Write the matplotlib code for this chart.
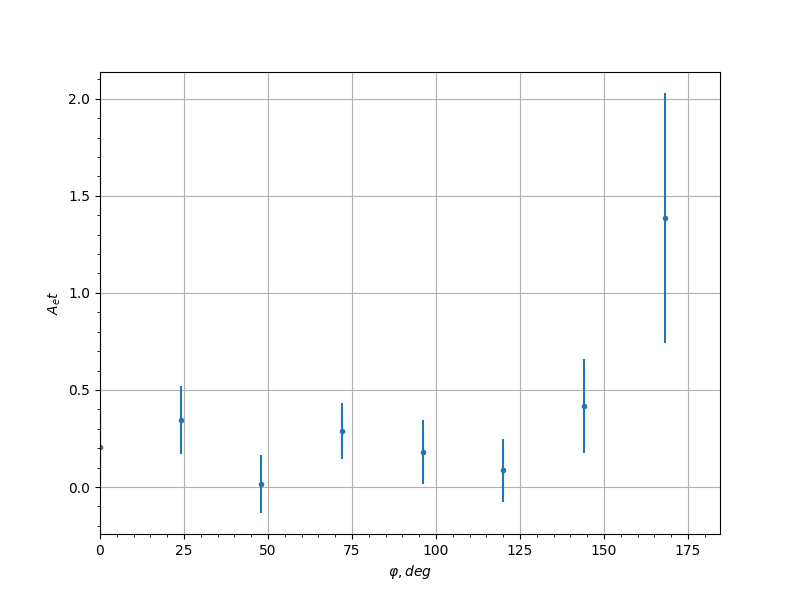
import matplotlib
matplotlib.use("Agg")
import matplotlib.pyplot as plt

# углы и значения
phi = [0, 24, 48, 72, 96, 120, 144, 168]
a_et = [0.205, 0.345, 0.014, 0.288, 0.179, 0.086, 0.417, 1.385]
a_err = [0.17, 0.175, 0.149, 0.144, 0.165, 0.162, 0.24, 0.643]

fig, ax = plt.subplots(figsize=(8, 6), dpi=100)
ax.errorbar(phi, a_et, yerr=a_err, fmt='.')
ax.set_xlim(0, 184.5)
ax.set_ylim(-0.242, 2.138)
ax.set_xlabel(r'$\varphi, deg$')
ax.set_ylabel(r'$A_et$')
ax.minorticks_on()
ax.grid(which='major')
fig.savefig('out.png')
